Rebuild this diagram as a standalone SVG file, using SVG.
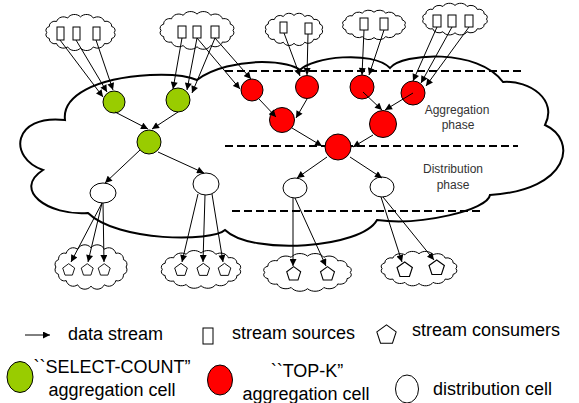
<svg xmlns="http://www.w3.org/2000/svg" xmlns:xlink="http://www.w3.org/1999/xlink" width="579" height="403" viewBox="0 0 579 403">
<style>
.cloudbig{fill:none;stroke:#000;stroke-width:2}
.cloud{fill:#fff;stroke:#000;stroke-width:1}
.dash{stroke:#000;stroke-width:2;stroke-dasharray:8 4;fill:none}
.src{fill:#fff;stroke:#000;stroke-width:1}
.green{fill:#99cc00;stroke:#000;stroke-width:1}
.red{fill:#ff0000;stroke:#000;stroke-width:1}
.dist{fill:#fff;stroke:#000;stroke-width:1}
.pent{fill:#fff;stroke:#000;stroke-width:1}
.edge{stroke:#000;stroke-width:1;fill:none;marker-end:url(#arr)}
.phase{font-family:"Liberation Sans",Arial,sans-serif;font-size:12px;fill:#333;text-anchor:middle}
.leg{font-family:"Liberation Sans",Arial,sans-serif;font-size:18px;fill:#000}
.mid{text-anchor:middle}
</style>
<defs>
<marker id="arr" viewBox="0 0 10 10" refX="10" refY="5" markerWidth="8" markerHeight="7" markerUnits="userSpaceOnUse" orient="auto">
<path d="M0,0 L10,5 L0,10 z" fill="#000"/>
</marker>
<path id="cloudshape" vector-effect="non-scaling-stroke" d="M95,30 A5.9,5.9 0 0 1 91.6,39.2 A7.5,7.5 0 0 1 81.8,47 A9.3,9.3 0 0 1 67.2,52.2 A10.4,10.4 0 0 1 50,54 A10.4,10.4 0 0 1 32.8,52.2 A9.3,9.3 0 0 1 18.2,47 A7.5,7.5 0 0 1 8.4,39.2 A5.9,5.9 0 0 1 5,30 A5.9,5.9 0 0 1 8.4,20.8 A7.5,7.5 0 0 1 18.2,13 A9.3,9.3 0 0 1 32.8,7.8 A10.4,10.4 0 0 1 50,6 A10.4,10.4 0 0 1 67.2,7.8 A9.3,9.3 0 0 1 81.8,13 A7.5,7.5 0 0 1 91.6,20.8 A5.9,5.9 0 0 1 95,30 Z"/>
<polygon id="pentshape" points="0,-7 6.66,-2.16 4.11,5.66 -4.11,5.66 -6.66,-2.16"/>
</defs>

<g id="network-cloud">
<path class="cloudbig" d="M65,120 C62,96 95,78 150,75 C172,74 188,76 197,80 C212,68 240,62 262,62 C282,62 295,66 300,70 C312,57 372,50 390,68 C402,53 478,48 503,82 C530,80 558,100 545,125 C578,140 570,190 490,195 C488,210 420,226 377,220 C362,248 252,256 225,230 C212,242 118,242 88,213 C48,216 12,190 43,170 C8,158 12,114 65,120 Z"/>
</g>

<g id="phase-lines">
<line class="dash" x1="225" y1="71" x2="523" y2="71"/>
<line class="dash" x1="225" y1="146" x2="518" y2="146"/>
<line class="dash" x1="232" y1="211" x2="483" y2="211"/>
<text class="phase" x="457" y="114">Aggregation</text>
<text class="phase" x="458" y="129">phase</text>
<text class="phase" x="453" y="173">Distribution</text>
<text class="phase" x="453" y="189">phase</text>
</g>

<g id="source-cloud-1">
<use xlink:href="#cloudshape" class="cloud" transform="translate(43,13) scale(0.75,0.65)"/>
<rect class="src" x="57" y="27" width="7" height="13"/>
<rect class="src" x="73" y="27" width="7" height="13"/>
<rect class="src" x="93" y="27" width="7" height="13"/>
</g>
<g id="source-cloud-2">
<use xlink:href="#cloudshape" class="cloud" transform="translate(157,10) scale(0.8,0.68)"/>
<rect class="src" x="178" y="26" width="8" height="12"/>
<rect class="src" x="193" y="26" width="8" height="12"/>
<rect class="src" x="211" y="26" width="8" height="12"/>
</g>
<g id="source-cloud-3">
<use xlink:href="#cloudshape" class="cloud" transform="translate(263,12) scale(0.62,0.58)"/>
<rect class="src" x="280" y="22" width="7" height="11"/>
<rect class="src" x="305" y="23" width="7" height="11"/>
</g>
<g id="source-cloud-4">
<use xlink:href="#cloudshape" class="cloud" transform="translate(340,9) scale(0.68,0.53)"/>
<rect class="src" x="360" y="18" width="8" height="12"/>
<rect class="src" x="380" y="18" width="8" height="12"/>
</g>
<g id="source-cloud-5">
<use xlink:href="#cloudshape" class="cloud" transform="translate(420,2) scale(0.7,0.57)"/>
<rect class="src" x="433" y="15" width="8" height="12"/>
<rect class="src" x="448" y="15" width="8" height="12"/>
<rect class="src" x="465" y="15" width="8" height="12"/>
</g>

<g id="consumer-cloud-1">
<use xlink:href="#cloudshape" class="cloud" transform="translate(52,243) scale(0.78,0.8)"/>
<use xlink:href="#pentshape" class="pent" transform="translate(68.7,270) scale(0.9)"/>
<use xlink:href="#pentshape" class="pent" transform="translate(87.2,270) scale(0.9)"/>
<use xlink:href="#pentshape" class="pent" transform="translate(104.2,270) scale(0.9)"/>
</g>
<g id="consumer-cloud-2">
<use xlink:href="#cloudshape" class="cloud" transform="translate(158,249) scale(0.86,0.68)"/>
<use xlink:href="#pentshape" class="pent" transform="translate(181,270) scale(0.95)"/>
<use xlink:href="#pentshape" class="pent" transform="translate(203.3,270) scale(0.95)"/>
<use xlink:href="#pentshape" class="pent" transform="translate(224.5,270) scale(0.95)"/>
</g>
<g id="consumer-cloud-3">
<use xlink:href="#cloudshape" class="cloud" transform="translate(260,252) scale(0.95,0.68)"/>
<use xlink:href="#pentshape" class="pent" transform="translate(293.7,274) scale(1.05)"/>
<use xlink:href="#pentshape" class="pent" transform="translate(327.5,274) scale(1.05)"/>
</g>
<g id="consumer-cloud-4">
<use xlink:href="#cloudshape" class="cloud" transform="translate(378,250) scale(0.82,0.62)"/>
<use xlink:href="#pentshape" class="pent" transform="translate(404.7,270) scale(1.15)"/>
<use xlink:href="#pentshape" class="pent" transform="translate(436.7,268) scale(1.15)"/>
</g>

<g id="select-count-1"><circle class="green" cx="114" cy="102" r="11"/></g>
<g id="select-count-2"><circle class="green" cx="178" cy="100" r="12"/></g>
<g id="select-count-3"><circle class="green" cx="149" cy="142" r="12"/></g>
<g id="top-k-1"><circle class="red" cx="252" cy="90" r="11"/></g>
<g id="top-k-2"><circle class="red" cx="282" cy="120" r="12.5"/></g>
<g id="top-k-3"><circle class="red" cx="307" cy="87" r="11.5"/></g>
<g id="top-k-4"><circle class="red" cx="362" cy="87" r="12"/></g>
<g id="top-k-5"><circle class="red" cx="413" cy="93" r="12"/></g>
<g id="top-k-6"><circle class="red" cx="383" cy="124" r="13.5"/></g>
<g id="top-k-7"><circle class="red" cx="338" cy="147" r="13"/></g>
<g id="dist-1"><ellipse class="dist" cx="103" cy="193" rx="13" ry="10"/></g>
<g id="dist-2"><ellipse class="dist" cx="206" cy="184" rx="13" ry="11"/></g>
<g id="dist-3"><ellipse class="dist" cx="295" cy="188" rx="12" ry="10"/></g>
<g id="dist-4"><ellipse class="dist" cx="382" cy="187" rx="12" ry="10"/></g>

<g id="connectors">
<line class="edge" x1="60" y1="40" x2="103" y2="97"/>
<line class="edge" x1="76" y1="40" x2="107" y2="92"/>
<line class="edge" x1="96" y1="40" x2="113" y2="90"/>
<line class="edge" x1="182" y1="38" x2="173" y2="89"/>
<line class="edge" x1="197" y1="38" x2="187" y2="90"/>
<line class="edge" x1="215" y1="38" x2="192" y2="93"/>
<line class="edge" x1="197" y1="38" x2="240" y2="89"/>
<line class="edge" x1="215" y1="38" x2="251" y2="79"/>
<line class="edge" x1="284" y1="33" x2="300" y2="76"/>
<line class="edge" x1="308" y1="34" x2="307" y2="75"/>
<line class="edge" x1="364" y1="30" x2="362" y2="75"/>
<line class="edge" x1="384" y1="30" x2="369" y2="75"/>
<line class="edge" x1="437" y1="27" x2="413" y2="81"/>
<line class="edge" x1="452" y1="27" x2="421" y2="83"/>
<line class="edge" x1="469" y1="27" x2="426" y2="86"/>
<line class="edge" x1="259" y1="99" x2="276" y2="117"/>
<line class="edge" x1="307" y1="99" x2="296" y2="118"/>
<line class="edge" x1="363" y1="92" x2="382" y2="110"/>
<line class="edge" x1="413" y1="93" x2="385" y2="110"/>
<line class="edge" x1="292" y1="128" x2="322" y2="146"/>
<line class="edge" x1="373" y1="135" x2="353" y2="147"/>
<line class="edge" x1="327" y1="157" x2="297" y2="178"/>
<line class="edge" x1="350" y1="157" x2="382" y2="178"/>
<line class="edge" x1="115" y1="112" x2="148" y2="129"/>
<line class="edge" x1="178" y1="112" x2="152" y2="129"/>
<line class="edge" x1="140" y1="150" x2="105" y2="183"/>
<line class="edge" x1="158" y1="152" x2="204" y2="173"/>
<line class="edge" x1="102" y1="203" x2="71" y2="262"/>
<line class="edge" x1="102" y1="203" x2="88" y2="262"/>
<line class="edge" x1="103" y1="203" x2="104" y2="262"/>
<line class="edge" x1="198" y1="194" x2="182" y2="262"/>
<line class="edge" x1="205" y1="195" x2="203" y2="262"/>
<line class="edge" x1="212" y1="194" x2="223" y2="262"/>
<line class="edge" x1="293" y1="198" x2="293" y2="266"/>
<line class="edge" x1="295" y1="198" x2="326" y2="266"/>
<line class="edge" x1="381" y1="197" x2="402" y2="262"/>
<line class="edge" x1="383" y1="197" x2="434" y2="260"/>
</g>

<g id="legend">
<line class="edge" x1="25" y1="335" x2="50" y2="335"/>
<text class="leg" x="68" y="340">data stream</text>
<rect class="src" x="203" y="328" width="10" height="16"/>
<text class="leg" x="232" y="339">stream sources</text>
<use xlink:href="#pentshape" class="pent" transform="translate(386.5,335) scale(1.45)" style="stroke-width:0.7"/>
<text class="leg" x="412" y="336">stream consumers</text>
<ellipse class="green" cx="20" cy="377" rx="13" ry="15.5"/>
<text class="leg mid" x="112" y="373">``SELECT-COUNT”</text>
<text class="leg mid" x="112" y="396">aggregation cell</text>
<ellipse class="red" cx="220" cy="380" rx="12.5" ry="15"/>
<text class="leg mid" x="307" y="377">``TOP-K”</text>
<text class="leg mid" x="306" y="400">aggregation cell</text>
<ellipse class="dist" cx="407" cy="389" rx="11.5" ry="14"/>
<text class="leg" x="433" y="395">distribution cell</text>
</g>
</svg>
